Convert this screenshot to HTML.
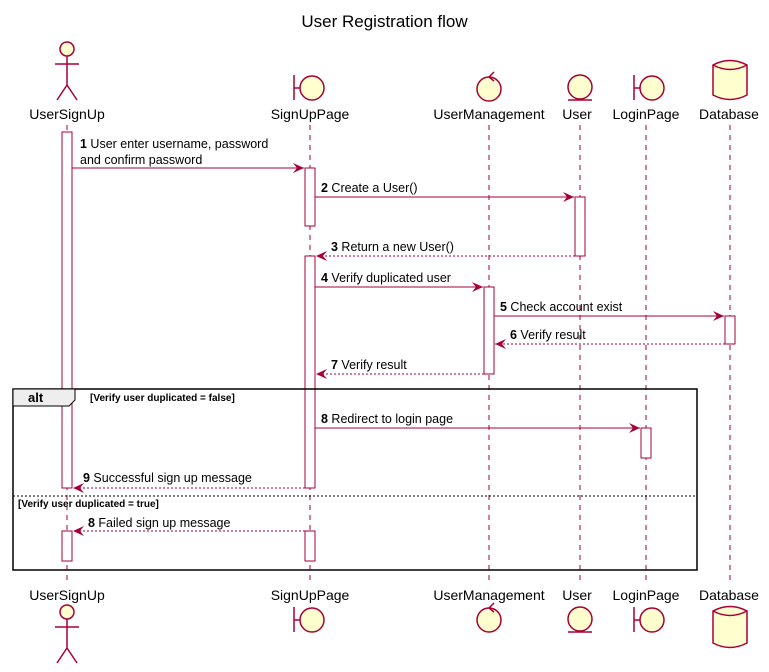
<!DOCTYPE html>
<html><head><style>body{margin:0;background:#fff}svg{display:block}text{font-family:"Liberation Sans",sans-serif}</style></head>
<body>
<svg width="769" height="672" viewBox="0 0 769 672" xmlns="http://www.w3.org/2000/svg">
<defs>
<marker id="a" markerWidth="12" markerHeight="10" refX="11" refY="5" orient="auto" markerUnits="userSpaceOnUse"><path d="M0,0 L11,5 L0,10 L4,5 Z" fill="#A80036"/></marker>
</defs>
<text x="384.5" y="27" font-size="17" text-anchor="middle">User Registration flow</text>
<g stroke="#A80036" stroke-width="1" stroke-dasharray="5,5">
<line x1="67" y1="125" x2="67" y2="585"/><line x1="310" y1="125" x2="310" y2="585"/>
<line x1="489" y1="125" x2="489" y2="585"/><line x1="580" y1="125" x2="580" y2="585"/>
<line x1="646" y1="125" x2="646" y2="585"/><line x1="730" y1="125" x2="730" y2="585"/>
</g>
<g font-size="14" text-anchor="middle">
<text x="67" y="119">UserSignUp</text><text x="310" y="119">SignUpPage</text><text x="489" y="119">UserManagement</text><text x="577" y="119">User</text><text x="646" y="119">LoginPage</text><text x="729" y="119">Database</text>
<text x="67" y="600">UserSignUp</text><text x="310" y="600">SignUpPage</text><text x="489" y="600">UserManagement</text><text x="577" y="600">User</text><text x="646" y="600">LoginPage</text><text x="729" y="600">Database</text>
</g>
<g fill="#FEFECE" stroke="#A80036" stroke-width="1.5">
<!-- top actors -->
<circle cx="67" cy="49" r="7"/><path d="M67,56 V85 M55,64 H79 M67,85 L57,100 M67,85 L77,100" fill="none"/>
<path d="M294,75 V100 M294,88 H300" fill="none"/><circle cx="312" cy="88" r="12"/>
<circle cx="489" cy="89" r="12"/><path d="M489,77 L494,72 M489,77 L494,81" fill="none"/>
<circle cx="580" cy="87" r="12"/><path d="M568,100 H592" fill="none"/>
<path d="M634,75 V100 M634,88 H640" fill="none"/><circle cx="652" cy="88" r="12"/>
<path d="M713,65 V95 Q730,104 747,95 V65 Q730,56 713,65 Z"/><path d="M713,65 Q730,74 747,65" fill="none"/>
<!-- bottom -->
<circle cx="67" cy="612" r="7"/><path d="M67,619 V648 M55,627 H79 M67,648 L57,663 M67,648 L77,663" fill="none"/>
<path d="M294,607 V632 M294,620 H300" fill="none"/><circle cx="312" cy="620" r="12"/>
<circle cx="489" cy="620" r="12"/><path d="M489,608 L494,603 M489,608 L494,612" fill="none"/>
<circle cx="580" cy="619" r="12"/><path d="M568,632 H592" fill="none"/>
<path d="M634,607 V632 M634,620 H640" fill="none"/><circle cx="652" cy="620" r="12"/>
<path d="M713,611 V643 Q730,652 747,643 V611 Q730,602 713,611 Z"/><path d="M713,611 Q730,620 747,611" fill="none"/>
</g>
<!-- activations -->
<g fill="#fff" stroke="#A80036" stroke-width="1">
<rect x="62" y="132" width="10" height="356"/>
<rect x="305" y="168" width="10" height="58"/>
<rect x="305" y="256" width="10" height="232"/>
<rect x="575" y="197" width="10" height="59"/>
<rect x="484" y="287" width="10" height="87"/>
<rect x="725" y="316" width="10" height="28"/>
<rect x="641" y="428" width="10" height="30"/>
<rect x="62" y="531" width="10" height="30"/>
<rect x="305" y="531" width="10" height="30"/>
</g>
<!-- alt frame -->
<rect x="13" y="389" width="684" height="181" fill="none" stroke="#000" stroke-width="1.5"/>
<path d="M13,389 H75 V400 L69,406 H13 Z" fill="#EEEEEE" stroke="#000" stroke-width="1"/>
<text x="28" y="402" font-size="13" font-weight="bold">alt</text>
<text x="90" y="401" font-size="10" font-weight="bold">[Verify user duplicated = false]</text>
<line x1="13" y1="496" x2="697" y2="496" stroke="#000" stroke-dasharray="2,2"/>
<text x="18" y="507" font-size="10" font-weight="bold">[Verify user duplicated = true]</text>
<!-- messages -->
<g stroke="#A80036" stroke-width="1" marker-end="url(#a)">
<line x1="72" y1="168" x2="304" y2="168"/>
<line x1="315" y1="197" x2="574" y2="197"/>
<line x1="575" y1="256" x2="316" y2="256" stroke-dasharray="2,2"/>
<line x1="315" y1="287" x2="483" y2="287"/>
<line x1="494" y1="316" x2="724" y2="316"/>
<line x1="725" y1="344" x2="495" y2="344" stroke-dasharray="2,2"/>
<line x1="484" y1="374" x2="316" y2="374" stroke-dasharray="2,2"/>
<line x1="315" y1="428" x2="640" y2="428"/>
<line x1="305" y1="488" x2="73" y2="488" stroke-dasharray="2,2"/>
<line x1="305" y1="531" x2="73" y2="531" stroke-dasharray="2,2"/>
</g>
<g font-size="12.5">
<text x="80" y="148"><tspan font-weight="bold">1</tspan> User enter username, password</text>
<text x="80" y="164">and confirm password</text>
<text x="321" y="192"><tspan font-weight="bold">2</tspan> Create a User()</text>
<text x="331" y="251"><tspan font-weight="bold">3</tspan> Return a new User()</text>
<text x="321" y="282"><tspan font-weight="bold">4</tspan> Verify duplicated user</text>
<text x="500" y="311"><tspan font-weight="bold">5</tspan> Check account exist</text>
<text x="510" y="339"><tspan font-weight="bold">6</tspan> Verify result</text>
<text x="331" y="369"><tspan font-weight="bold">7</tspan> Verify result</text>
<text x="321" y="423"><tspan font-weight="bold">8</tspan> Redirect to login page</text>
<text x="83" y="482"><tspan font-weight="bold">9</tspan> Successful sign up message</text>
<text x="88" y="527"><tspan font-weight="bold">8</tspan> Failed sign up message</text>
</g>
</svg>
</body></html>
